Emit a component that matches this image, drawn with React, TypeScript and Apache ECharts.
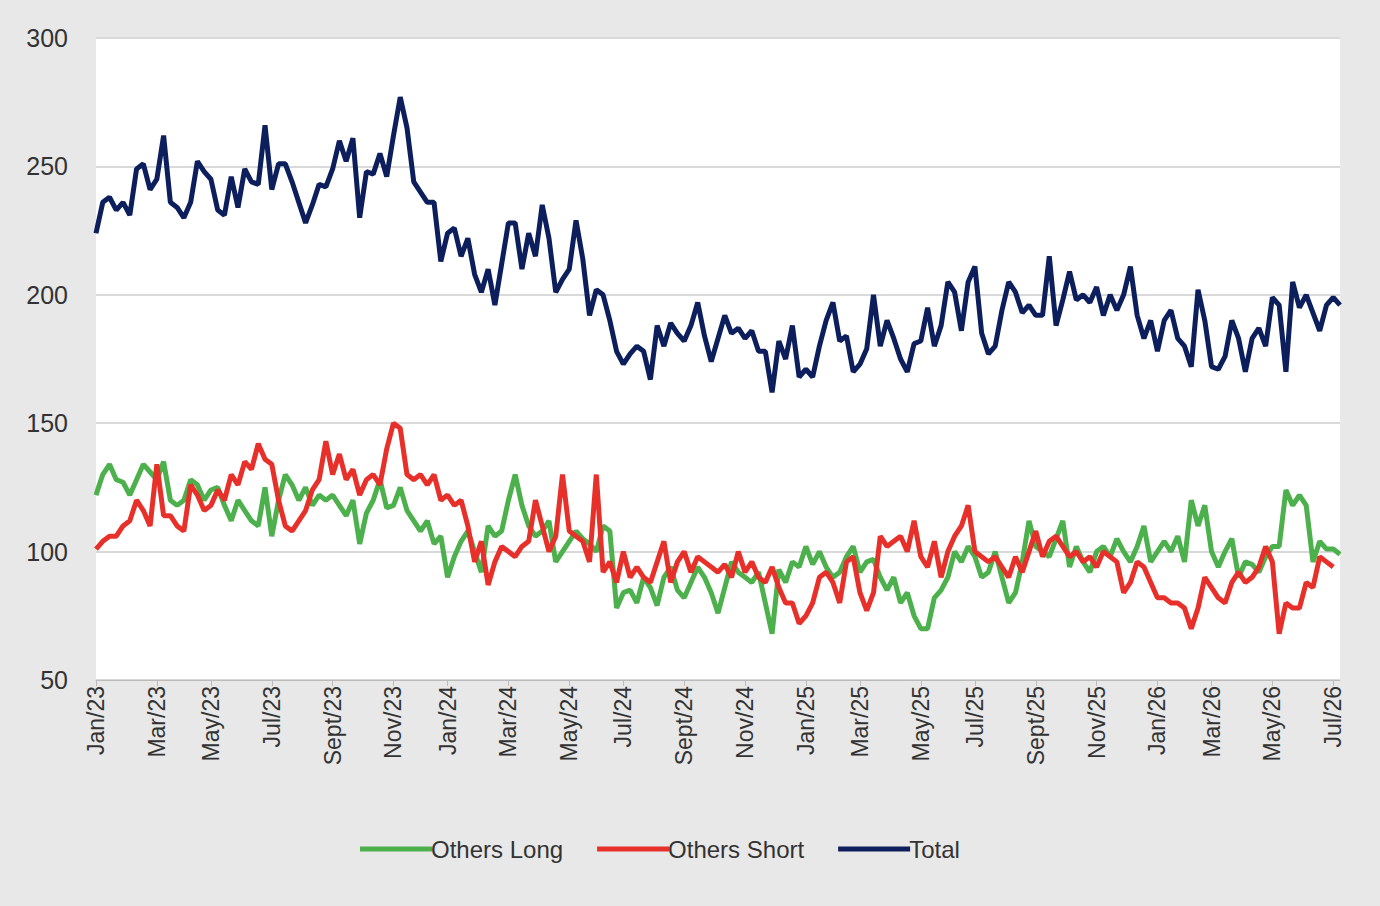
import React, { useEffect, useRef } from 'react';
import * as echarts from 'echarts';

const othersLong = [
  122, 130, 134, 128, 127, 122, 128, 134, 131, 128, 135, 120, 118, 120, 128, 126, 120, 124,
  125, 118, 112, 120, 116, 112, 110, 125, 106, 120, 130, 126, 120, 125, 118, 122, 120, 122,
  118, 114, 120, 103, 115, 120, 128, 117, 118, 125, 116, 112, 108, 112, 103, 106, 90,
  98, 104, 108, 100, 92, 110, 106, 108, 120, 130, 118, 110, 106, 108, 112, 96, 100, 104,
  108, 105, 103, 100, 110, 108, 78, 84, 85, 80, 90, 86, 79, 90, 94, 85, 82, 88, 94, 90, 84, 76,
  86, 96, 92, 90, 88, 92, 80, 68, 93, 88, 96, 94, 102, 95, 100, 94, 90, 92, 98, 102, 92, 96,
  97, 90, 85, 90, 80, 84, 75, 70, 70, 82, 85, 90, 100, 96, 102, 98, 90, 92, 100, 90, 80, 84,
  96, 112, 102, 100, 98, 105, 112, 94, 102, 96, 92, 100, 102, 98, 105, 100, 96, 102,
  110, 96, 100, 104, 100, 106, 96, 120, 110, 118, 100, 94, 100, 105, 90, 96, 95, 92, 98, 102,
  102, 124, 118, 122, 118, 96, 104, 101, 101, 99,
];

const othersShort = [
  101, 104, 106, 106, 110, 112, 120, 116, 110, 134, 114, 114, 110, 108, 126, 122, 116, 118,
  124, 120, 130, 126, 135, 132, 142, 136, 134, 120, 110, 108, 112, 116, 124, 128, 143, 130,
  138, 128, 132, 122, 128, 130, 126, 140, 150, 148, 130, 128, 130, 126, 130, 120, 122,
  118, 120, 110, 96, 104, 87, 96, 102, 100, 98, 102, 104, 120, 110, 100, 106, 130, 108,
  106, 104, 96, 130, 92, 96, 88, 100, 90, 94, 90, 88, 96, 104, 88, 96, 100, 92, 98, 96, 94, 92,
  95, 90, 100, 92, 96, 90, 88, 94, 86, 80, 80, 72, 75, 80, 90, 92, 88, 80, 96, 98, 84, 77,
  84, 106, 102, 104, 106, 100, 112, 98, 94, 104, 90, 100, 106, 110, 118, 100, 98, 96, 98, 94, 90,
  98, 92, 100, 108, 98, 104, 106, 102, 98, 100, 96, 98, 94, 100, 98, 96, 84, 88,
  96, 94, 88, 82, 82, 80, 80, 78, 70, 78, 90, 86, 82, 80, 88, 92, 88, 90, 94, 102,
  96, 68, 80, 78, 78, 88, 86, 98, 96, 94,
];

const total = [
  224, 236, 238, 233, 236, 231, 249, 251, 241, 245, 262, 236, 234, 230, 236, 252, 248, 245,
  233, 231, 246, 234, 249, 244, 243, 266, 241, 251, 251, 244, 236, 228, 235, 243, 242, 249,
  260, 252, 261, 230, 248, 247, 255, 246, 262, 277, 265, 244, 240, 236, 236, 213, 224,
  226, 215, 222, 208, 201, 210, 196, 212, 228, 228, 210, 224, 215, 235, 222, 201, 206, 210,
  229, 214, 192, 202, 200, 190, 178, 173, 177, 180, 178, 167, 188, 180, 189, 185, 182, 188,
  197, 184, 174, 183, 192, 185, 187, 183, 186, 178, 178, 162, 182, 175, 188, 168, 171,
  168, 180, 190, 197, 182, 184, 170, 173, 179, 200, 180, 190, 183, 175, 170, 181, 182, 195,
  180, 188, 205, 201, 186, 205, 211, 185, 177, 180, 194, 205, 201, 193, 196, 192, 192, 215,
  188, 198, 209, 198, 200, 197, 203, 192, 200, 194, 200, 211, 192, 183, 190, 178, 190,
  194, 183, 180, 172, 202, 190, 172, 171, 176, 190, 183, 170, 183, 187, 180, 199,
  196, 170, 205, 195, 200, 193, 186, 196, 199, 196,
];

const monthNames = ['Jan', 'Feb', 'Mar', 'Apr', 'May', 'Jun', 'Jul', 'Aug', 'Sept', 'Oct', 'Nov', 'Dec'];

// weekly dates from the first Tuesday of 2023
const weeks: Date[] = total.map((_, i) => new Date(Date.UTC(2023, 0, 3 + i * 7)));
const categories = weeks.map((d) => d.toISOString().slice(0, 10));

const isLabelWeek = (i: number) => {
  const d = weeks[i];
  return d.getUTCDate() <= 7 && d.getUTCMonth() % 2 === 0;
};

const App: React.FC = () => {
  const chartRef = useRef<HTMLDivElement>(null);

  useEffect(() => {
    const chart = echarts.init(chartRef.current as HTMLDivElement, undefined, { renderer: 'svg' });
    const font = "'Liberation Sans', Arial, sans-serif";
    const line = (name: string, data: number[], color: string) => ({
      name,
      type: 'line',
      data,
      showSymbol: false,
      lineStyle: { color, width: 5 },
      itemStyle: { color },
    });
    chart.setOption({
      animation: false,
      backgroundColor: '#e8e8e8',
      textStyle: { fontFamily: font },
      grid: {
        left: 96, right: 40, top: 38, bottom: 226,
        show: true, backgroundColor: '#fff', borderWidth: 0,
      },
      legend: {
        bottom: 40,
        left: 355,
        itemWidth: 72,
        itemHeight: 5,
        itemGap: 34,
        icon: 'rect',
        textStyle: { fontSize: 24, color: '#333', fontFamily: font, padding: [0, 0, 0, -6] },
        data: ['Others Long', 'Others Short', 'Total'],
      },
      xAxis: {
        type: 'category',
        data: categories,
        boundaryGap: false,
        axisLine: { lineStyle: { color: '#bbb' } },
        axisTick: { show: true, interval: (i: number) => isLabelWeek(i), length: 6, lineStyle: { color: '#bbb' } },
        axisLabel: {
          interval: (i: number) => isLabelWeek(i),
          rotate: 90,
          fontSize: 23,
          color: '#333',
          margin: 6,
          formatter: (v: string) => {
            const d = new Date(v + 'T00:00:00Z');
            return monthNames[d.getUTCMonth()] + '/' + String(d.getUTCFullYear()).slice(2);
          },
        },
      },
      yAxis: {
        type: 'value',
        min: 50,
        max: 300,
        interval: 50,
        axisLine: { show: false },
        axisTick: { show: false },
        axisLabel: { fontSize: 25, color: '#333', margin: 28 },
        splitLine: { lineStyle: { color: '#d9d9d9', width: 2 } },
      },
      series: [
        line('Others Long', othersLong, '#4cb04c'),
        line('Others Short', othersShort, '#e8302a'),
        line('Total', total, '#0c1f5c'),
      ],
    });
    return () => {
      chart.dispose();
    };
  }, []);

  return (
    <div
      ref={chartRef}
      style={{ position: 'fixed', left: 0, top: 0, width: 1380, height: 906 }}
    />
  );
};

export default App;
